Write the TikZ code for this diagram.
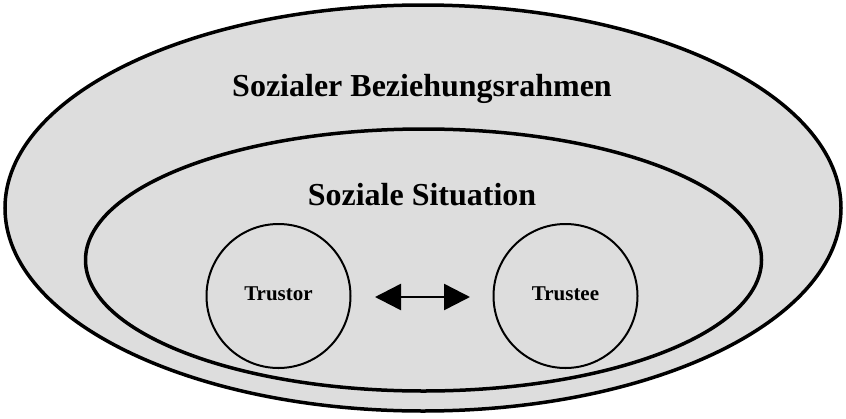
\documentclass[tikz,border=0pt]{standalone}
\usepackage{fontspec}
\setmainfont{Liberation Serif}
\usetikzlibrary{arrows.meta}
\definecolor{fillgray}{HTML}{DDDDDD}
\begin{document}
\begin{tikzpicture}[x=1pt,y=-1pt,
  region/.style={draw=black,line width=3.5pt,fill=fillgray},
  party/.style={circle,draw=black,line width=2pt,fill=fillgray,minimum size=144pt,inner sep=0pt,font=\bfseries\fontsize{21}{24}\selectfont},
  title/.style={anchor=base,font=\bfseries\fontsize{32}{36}\selectfont}]
\useasboundingbox (0,0) rectangle (846,418);
\draw[region] (423,208) ellipse [x radius=418, y radius=203];
\draw[region] (423.5,260) ellipse [x radius=338, y radius=131];
\node[title] (outer) at (422,96.7) {Sozialer Beziehungsrahmen};
\node[title] (inner) at (422,205.7) {Soziale Situation};
\node[party] (trustor) at (278.5,296) {\raisebox{4.5pt}{Trustor}};
\node[party] (trustee) at (565.5,296) {\raisebox{4.5pt}{Trustee}};
\coordinate (al) at (375,297);
\coordinate (ar) at (470,297);
\draw[line width=2.5pt,{Triangle[length=26pt,width=26pt]}-{Triangle[length=26pt,width=26pt]}] (al) -- (ar);
\end{tikzpicture}
\end{document}
